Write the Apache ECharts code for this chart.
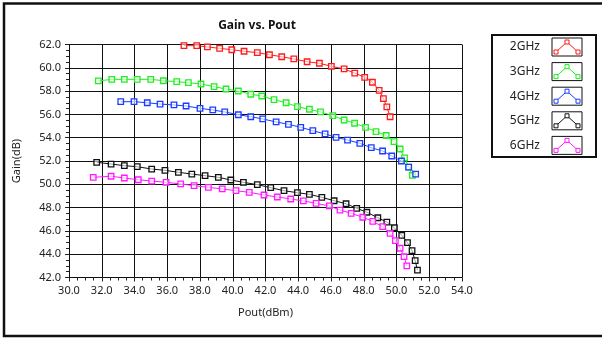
<!DOCTYPE html>
<html><head><meta charset="utf-8">
<script src="https://cdn.jsdelivr.net/npm/echarts@6/dist/echarts.min.js"></script>
<style>html,body{margin:0;padding:0;background:#fff}#c{width:602px;height:338px}</style>
</head><body><div id="c"></div>
<script>
const seriesNames = ['2GHz','3GHz','4GHz','5GHz','6GHz'];
const seriesColors = ['#ff1a1a','#22ee22','#1a3cff','#111111','#ff1aff'];
const xTicks = [30,32,34,36,38,40,42,44,46,48,50,52,54];
const yTicks = [42,44,46,48,50,52,54,56,58,60,62];

const pout2 = [37.02,37.80,38.45,39.20,39.94,40.69,41.50,42.24,42.99,43.73,44.54,45.29,46.02,46.80,47.45,48.06,48.53,48.94,49.20,49.41,49.61];
const gain2 = [61.90,61.90,61.79,61.67,61.55,61.42,61.30,61.12,60.95,60.76,60.52,60.39,60.13,59.90,59.55,59.18,58.76,58.07,57.35,56.64,55.80];

const pout3 = [31.79,32.61,33.38,34.17,34.99,35.76,36.58,37.29,38.06,38.86,39.59,40.34,41.10,41.77,42.52,43.26,43.95,44.68,45.36,46.11,46.80,47.44,48.11,48.75,49.37,49.85,50.22,50.49,50.75,50.97];
const gain3 = [58.87,59.01,59.01,59.01,59.01,58.89,58.81,58.72,58.61,58.38,58.18,58.01,57.73,57.58,57.26,57.00,56.66,56.44,56.21,55.89,55.52,55.24,54.89,54.53,54.19,53.67,53.03,52.26,51.48,50.77];

const pout4 = [33.16,33.97,34.78,35.56,36.41,37.15,38.00,38.78,39.51,40.34,41.10,41.83,42.65,43.40,44.15,44.89,45.64,46.31,47.01,47.76,48.46,49.15,49.71,50.30,50.74,51.17];
const gain4 = [57.09,57.09,57.00,56.89,56.81,56.72,56.52,56.38,56.21,55.97,55.80,55.61,55.35,55.15,54.89,54.60,54.32,54.03,53.80,53.52,53.14,52.86,52.43,52.00,51.48,50.88];

const pout5 = [31.69,32.57,33.38,34.17,35.05,35.86,36.68,37.50,38.31,39.12,39.88,40.65,41.50,42.32,43.13,43.95,44.68,45.44,46.19,46.92,47.57,48.19,48.86,49.41,49.87,50.32,50.67,50.95,51.14,51.28];
const gain5 = [51.89,51.74,51.60,51.51,51.31,51.20,51.03,50.88,50.74,50.60,50.37,50.17,49.97,49.71,49.45,49.28,49.14,48.88,48.59,48.33,47.94,47.60,47.13,46.76,46.27,45.62,44.99,44.30,43.44,42.64];

const pout6 = [31.48,32.57,33.38,34.23,35.05,35.93,36.82,37.64,38.51,39.36,40.20,41.01,41.91,42.72,43.54,44.31,45.09,45.90,46.55,47.23,47.94,48.55,49.16,49.61,49.93,50.22,50.46,50.63];
const gain6 = [50.60,50.69,50.54,50.39,50.28,50.17,50.03,49.88,49.74,49.60,49.45,49.31,49.08,48.91,48.74,48.57,48.37,48.14,47.79,47.51,47.17,46.82,46.36,45.79,45.16,44.51,43.79,42.99];

const pouts = [pout2,pout3,pout4,pout5,pout6];
const gains = [gain2,gain3,gain4,gain5,gain6];

const FONT = 'Noto Sans';
const chart = echarts.init(document.getElementById('c'), null, {renderer:'canvas'});

const series = seriesNames.map((n,i)=>({
  name:n, type:'line',
  data: pouts[i].map((x,k)=>[x, gains[i][k]]),
  symbol:'rect', symbolSize:5.5,
  lineStyle:{color:seriesColors[i], width:1},
  itemStyle:{color:'rgba(255,255,255,0.6)', borderColor:seriesColors[i], borderWidth:1.3},
  emphasis:{disabled:true}, animation:false
}));

const graphic = [
  {type:'polyline', shape:{points:[[602,3.5],[4,3.5],[4,336],[602,336]]}, style:{fill:null, stroke:'#111', lineWidth:2.5}, silent:true},
  {type:'rect', shape:{x:492,y:35,width:104,height:122}, style:{fill:'#fff', stroke:'#111', lineWidth:2}, silent:true}
];
seriesNames.forEach((n,i)=>{
  const y0 = 38 + 24.6*i;
  graphic.push({type:'text', style:{text:n, x:540, y:y0+9, align:'right', verticalAlign:'middle', font:'12px "'+FONT+'"', fill:'#222'}, silent:true});
  graphic.push({type:'rect', shape:{x:552,y:y0,width:30,height:18}, style:{fill:'#fff', stroke:'#111', lineWidth:1}, silent:true});
  const pts = [[556,y0+14],[567,y0+4],[578,y0+14]];
  graphic.push({type:'polyline', shape:{points:pts}, style:{stroke:seriesColors[i], lineWidth:1, fill:null}, silent:true});
  pts.forEach(p=>graphic.push({type:'rect', shape:{x:p[0]-2,y:p[1]-2,width:4,height:4}, style:{fill:'#fff', stroke:seriesColors[i], lineWidth:1}, silent:true}));
});

chart.setOption({
  animation:false,
  backgroundColor:'#fff',
  title:{text:'Gain vs. Pout', left:252, top:15, textAlign:'center',
    textStyle:{fontFamily:FONT, fontSize:12, fontWeight:'bold', color:'#111'}},
  grid:{left:69, right:140, top:44.5, bottom:60.5, containLabel:false},
  xAxis:{type:'value', min:xTicks[0], max:xTicks[xTicks.length-1], interval:2,
    name:'Pout(dBm)', nameLocation:'middle', nameGap:30,
    nameTextStyle:{fontFamily:FONT, fontSize:11, color:'#222'},
    axisLine:{show:true, lineStyle:{color:'#111', width:1}},
    axisTick:{show:true, length:4, lineStyle:{color:'#222'}},
    minorTick:{show:true, splitNumber:4, length:3, lineStyle:{color:'#222'}},
    axisLabel:{formatter:v=>v.toFixed(1), fontFamily:FONT, fontSize:11, color:'#222', margin:8},
    splitLine:{show:true, lineStyle:{color:'#111', width:1}}},
  yAxis:{type:'value', min:yTicks[0], max:yTicks[yTicks.length-1], interval:2,
    name:'Gain(dB)', nameLocation:'middle', nameGap:47, nameRotate:90,
    nameTextStyle:{fontFamily:FONT, fontSize:11, color:'#222'},
    axisLine:{show:true, lineStyle:{color:'#111', width:1}},
    axisTick:{show:true, length:4, lineStyle:{color:'#222'}},
    minorTick:{show:true, splitNumber:4, length:3, lineStyle:{color:'#222'}},
    axisLabel:{formatter:v=>v.toFixed(1), fontFamily:FONT, fontSize:11, color:'#222', margin:8},
    splitLine:{show:true, lineStyle:{color:'#111', width:1}}},
  legend:{show:false},
  graphic:graphic,
  series:series
});
</script></body></html>
